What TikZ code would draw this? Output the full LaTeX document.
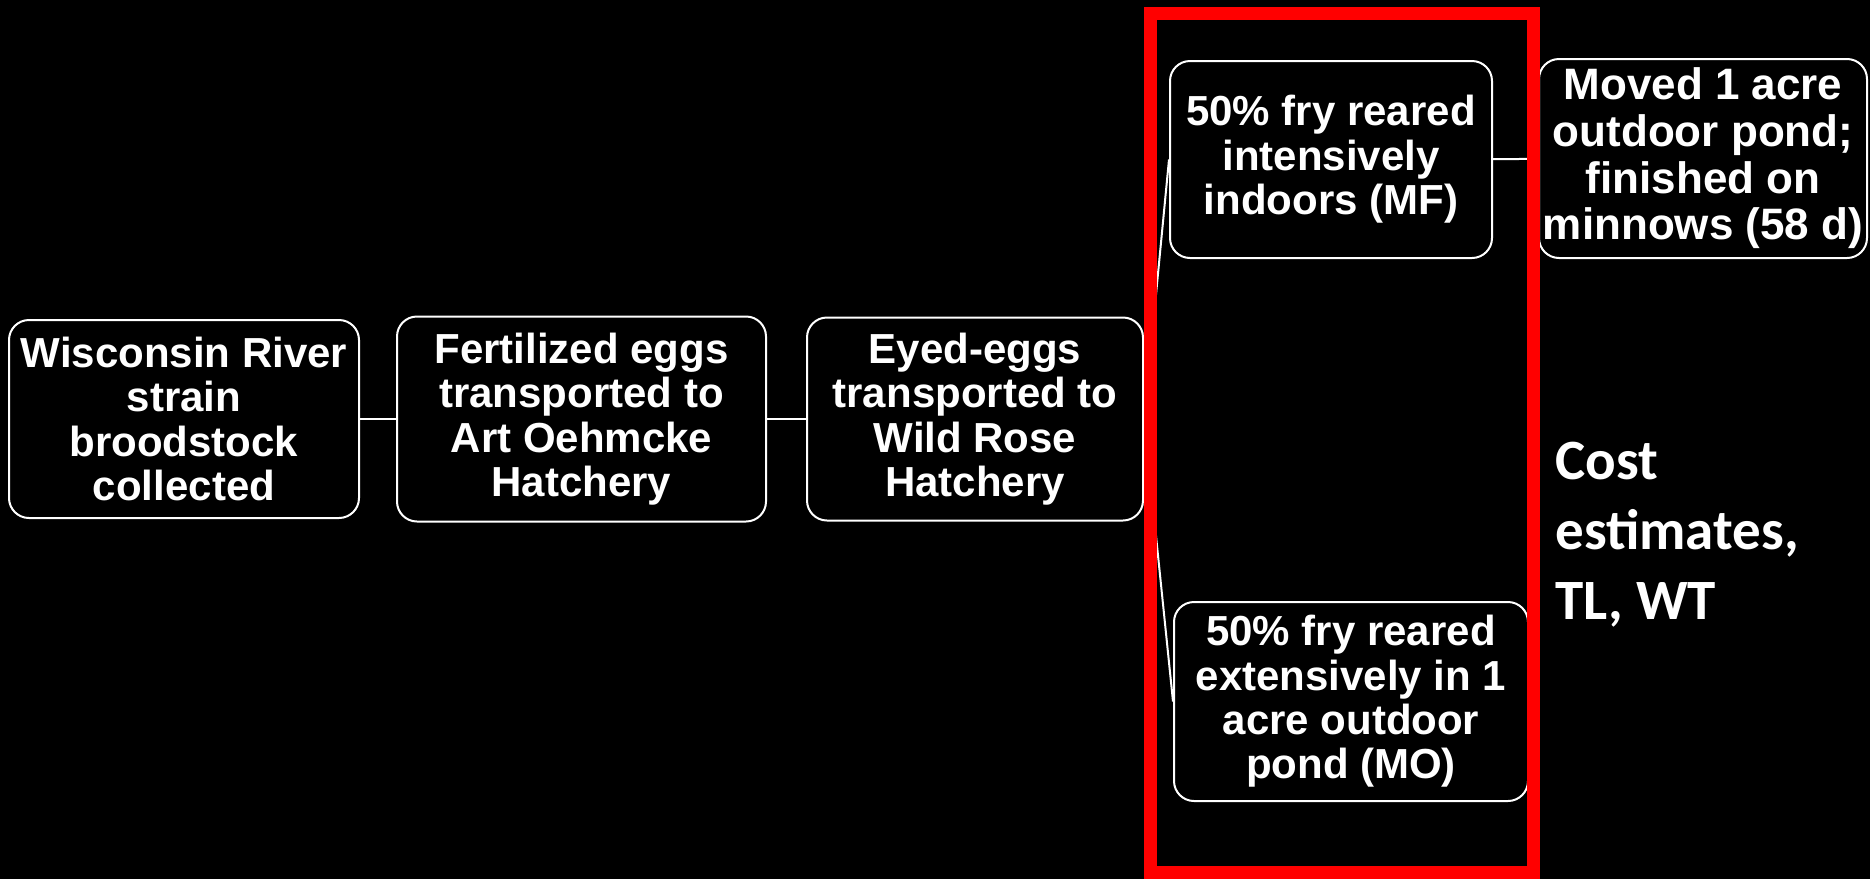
\documentclass[tikz,border=0pt]{standalone}
\usepackage{fontspec}
\setmainfont{Liberation Sans}
\newfontfamily\costfont{Carlito}
\usetikzlibrary{positioning}

\begin{document}
\begin{tikzpicture}[
    x=0.5pt, y=-0.5pt,
    node_box/.style={draw=white, line width=1pt, rounded corners=10pt, fill=black, text=white, align=center, inner sep=1pt, font=\fontsize{21}{22.2}\selectfont\bfseries},
    edge_path/.style={draw=white, line width=1pt},
    note_text/.style={text=white, align=left, inner sep=0pt, font=\costfont\fontsize{28.5}{35}\selectfont\bfseries}
  ]
    \fill[black] (0,0) rectangle (1870,879);
    \useasboundingbox (0,0) rectangle (1870,879);

    \node[node_box, minimum width=175pt, minimum height=99pt] (W) at (184,419) {Wisconsin River\\strain\\broodstock\\collected};
    \node[node_box, minimum width=184.5pt, minimum height=102.5pt, right=18pt of W] (F) {Fertilized eggs\\transported to\\Art Oehmcke\\Hatchery};
    \node[node_box, minimum width=168pt, minimum height=101.5pt, right=19.5pt of F] (E) {Eyed-eggs\\transported to\\Wild Rose\\Hatchery};

    \node[node_box, minimum width=161pt, minimum height=98.5pt] (MF) at (1331,159.5) {50\% fry reared\\intensively\\indoors (MF)};
    \node[node_box, minimum width=164pt, minimum height=99.5pt, font=\fontsize{22}{23.3}\selectfont\bfseries] (MV) at (1703,158.5) {Moved 1 acre\\outdoor pond;\\finished on\\minnows (58 d)};
    \node[node_box, minimum width=177pt, minimum height=99.5pt] (MO) at (1351,701.5) {50\% fry reared\\extensively in 1\\acre outdoor\\pond (MO)};

    \node[note_text, anchor=base west] (C) at (1555,619) {Cost\\estimates,\\TL, WT};

    \draw[edge_path] (W) -- (F);
    \draw[edge_path] (F) -- (E);
    \draw[edge_path] (E.east) -- (MF.west);
    \draw[edge_path] (E.east) -- (MO.west);
    \draw[edge_path] (MF) -- (MV);

    % highlight frame
    \draw[red, line width=6.5pt] (1150.5,13.5) rectangle (1533.5,872);
  \end{tikzpicture}
\end{document}
